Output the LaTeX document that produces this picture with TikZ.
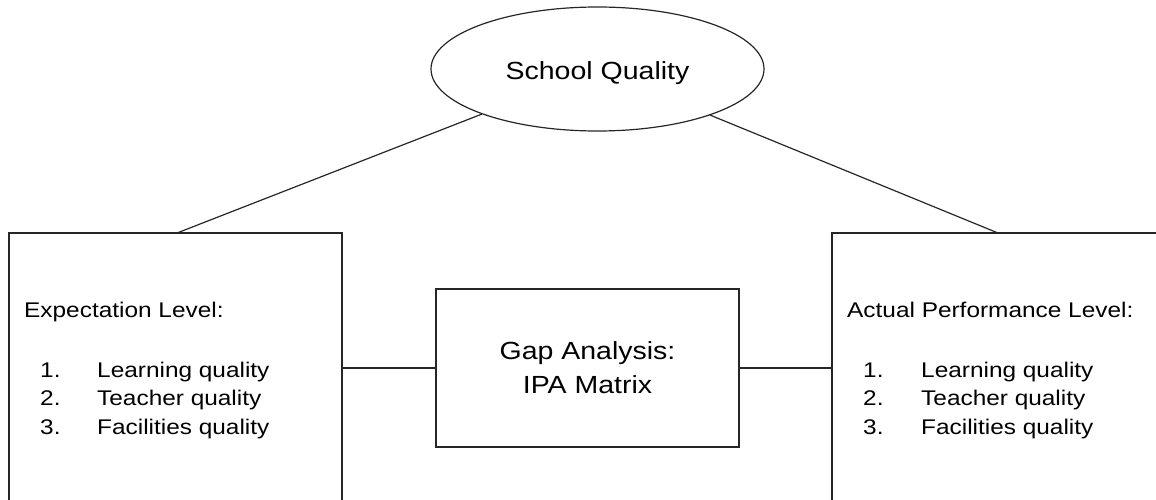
\documentclass[tikz,border=0pt]{standalone}
\usepackage{fontspec}
\setmainfont{Liberation Sans}
\usetikzlibrary{shapes.geometric}
\newcommand{\sqz}[1]{\scalebox{1}[0.87]{#1}}
\begin{document}
\begin{tikzpicture}[x=1pt,y=-1pt,
  frame/.style={draw=black!85,line width=1.2pt},
  box/.style={frame,rectangle,inner sep=0pt},
  bigtext/.style={font=\fontsize{28.5}{34}\selectfont},
  listtext/.style={font=\fontsize{24.4}{28}\selectfont,inner sep=0pt,anchor=base west},
  link/.style={draw=black!85,line width=1.2pt}]
\useasboundingbox (0,0) rectangle (1156,500);
\clip (0,0) rectangle (1156,500);

% top concept
\node[frame,ellipse,inner sep=0pt,minimum width=333pt,minimum height=124pt,bigtext]
  (sq) at (597.5,69) {\raisebox{-4pt}[\height][\depth]{\sqz{School Quality}}};

% side boxes (they run past the page edge)
\node[box,minimum width=333pt,minimum height=330pt] (exp) at (175.5,398) {};
\node[box,minimum width=370pt,minimum height=330pt] (act) at (1017,398) {};

% central box
\node[box,minimum width=303pt,minimum height=158pt,align=center,bigtext]
  (gap) at (587.5,368) {\sqz{Gap Analysis:}\\\sqz{IPA Matrix}};

% contents of the left box
\node[listtext] (expt) at (24,317) {\sqz{Expectation Level:}};
\node[listtext] (e1n) at (40,377) {\sqz{1.}};
\node[listtext] (e2n) at (40,405.5) {\sqz{2.}};
\node[listtext] (e3n) at (40,434) {\sqz{3.}};
\node[listtext] (e1) at (97,377) {\sqz{Learning quality}};
\node[listtext] (e2) at (97,405.5) {\sqz{Teacher quality}};
\node[listtext] (e3) at (97,434) {\sqz{Facilities quality}};

% contents of the right box
\node[listtext] (actt) at (847,317) {\sqz{Actual Performance Level:}};
\node[listtext] (a1n) at (863,377) {\sqz{1.}};
\node[listtext] (a2n) at (863,405.5) {\sqz{2.}};
\node[listtext] (a3n) at (863,434) {\sqz{3.}};
\node[listtext] (a1) at (921,377) {\sqz{Learning quality}};
\node[listtext] (a2) at (921,405.5) {\sqz{Teacher quality}};
\node[listtext] (a3) at (921,434) {\sqz{Facilities quality}};

% connectors
\coordinate (expTop) at (177,233);
\coordinate (actTop) at (998,233);
\draw[link] (sq) -- (expTop);
\draw[link] (sq) -- (actTop);
\draw[link] (gap.west) -- (gap.west -| exp.east);
\draw[link] (gap.east) -- (gap.east -| act.west);
\end{tikzpicture}
\end{document}
